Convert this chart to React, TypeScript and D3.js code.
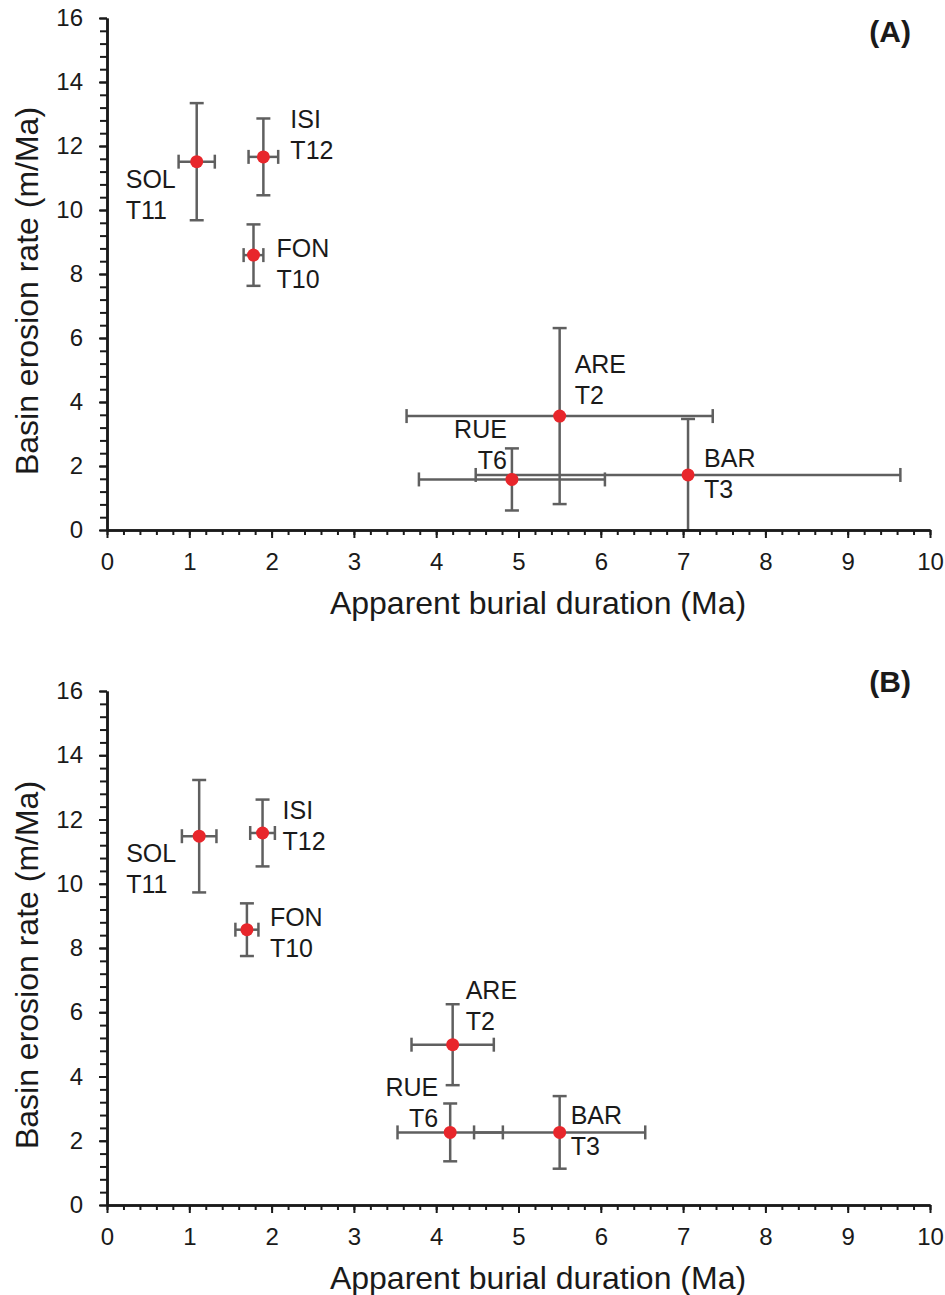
import React, { useRef, useEffect } from 'react';
import * as d3 from 'd3';

// sample sites and their terrace levels
const sites = ['SOL', 'ISI', 'FON', 'ARE', 'RUE', 'BAR'];
const terraces = ['T11', 'T12', 'T10', 'T2', 'T6', 'T3'];

// panel (A)
const burialA = [1.09, 1.9, 1.78, 5.5, 4.92, 7.06];
const burialErrA = [0.22, 0.18, 0.12, 1.86, 1.13, 2.58];
const erosionA = [11.51, 11.66, 8.59, 3.56, 1.58, 1.72];
const erosionErrA = [1.83, 1.2, 0.96, 2.75, 0.97, 1.75];

// panel (B)
const burialB = [1.12, 1.89, 1.7, 4.2, 4.17, 5.5];
const burialErrB = [0.21, 0.15, 0.14, 0.5, 0.64, 1.04];
const erosionB = [11.48, 11.58, 8.57, 4.99, 2.26, 2.26];
const erosionErrB = [1.75, 1.04, 0.82, 1.26, 0.9, 1.13];

const xTicks = d3.range(0, 11, 1);
const yTicks = d3.range(0, 17, 2);
const xTitle = 'Apparent burial duration (Ma)';
const yTitle = 'Basin erosion rate (m/Ma)';

// label placement relative to each point (px): dx, dy of first line, anchor
const labelPosA = [
  [-71, 26, 'start'], [27, -29, 'start'], [23, 2, 'start'],
  [15, -43, 'start'], [-5, -41, 'end'], [16, -8, 'start'],
];
const labelPosB = [
  [-73, 26, 'start'], [20, -14, 'start'], [23, -4, 'start'],
  [13, -46, 'start'], [-12, -36, 'end'], [11, -8, 'start'],
];

const panels = [
  { id: 'A', tag: '(A)', top: 18, bottom: 530, tagY: 42, x: burialA, xe: burialErrA, y: erosionA, ye: erosionErrA, labels: labelPosA },
  { id: 'B', tag: '(B)', top: 691, bottom: 1205, tagY: 692, x: burialB, xe: burialErrB, y: erosionB, ye: erosionErrB, labels: labelPosB },
];

const W = 945;
const H = 1295;
const left = 107;
const right = 930;
const FONT = '"Liberation Sans", Arial, sans-serif';
const BAR_COLOR = '#5f5f5f';
const DOT_COLOR = '#e8262b';

const App = () => {
  const ref = useRef(null);

  useEffect(() => {
    const svg = d3.select(ref.current);
    svg.selectAll('*').remove();
    svg.attr('width', W).attr('height', H).style('font-family', FONT);

    svg.append('rect').attr('width', W).attr('height', H).attr('fill', '#fff');

    const x = d3.scaleLinear().domain([0, 10]).range([left, right]);

    panels.forEach((p) => {
      const y = d3.scaleLinear().domain([0, 16]).range([p.bottom, p.top]);
      const g = svg.append('g');

      // clip for error bars running past the axes
      const clipId = `clip-${p.id}`;
      g.append('clipPath').attr('id', clipId)
        .append('rect')
        .attr('x', left).attr('y', p.top - 10)
        .attr('width', right - left + 10).attr('height', p.bottom - p.top + 10);

      const marks = g.append('g').attr('clip-path', `url(#${clipId})`);
      const cap = 7;

      p.x.forEach((xv, i) => {
        const cx = x(xv);
        const cy = y(p.y[i]);
        const x0 = x(xv - p.xe[i]);
        const x1 = x(xv + p.xe[i]);
        const y0 = y(p.y[i] - p.ye[i]);
        const y1 = y(p.y[i] + p.ye[i]);
        const bars = marks.append('g')
          .attr('stroke', BAR_COLOR).attr('stroke-width', 2.5).attr('fill', 'none');
        bars.append('line').attr('x1', x0).attr('x2', x1).attr('y1', cy).attr('y2', cy);
        bars.append('line').attr('x1', x0).attr('x2', x0).attr('y1', cy - cap).attr('y2', cy + cap);
        bars.append('line').attr('x1', x1).attr('x2', x1).attr('y1', cy - cap).attr('y2', cy + cap);
        bars.append('line').attr('x1', cx).attr('x2', cx).attr('y1', y0).attr('y2', y1);
        bars.append('line').attr('x1', cx - cap).attr('x2', cx + cap).attr('y1', y0).attr('y2', y0);
        bars.append('line').attr('x1', cx - cap).attr('x2', cx + cap).attr('y1', y1).attr('y2', y1);
      });

      p.x.forEach((xv, i) => {
        marks.append('circle')
          .attr('cx', x(xv)).attr('cy', y(p.y[i])).attr('r', 6.5)
          .attr('fill', DOT_COLOR);
      });

      // point labels, two lines each
      p.x.forEach((xv, i) => {
        const [dx, dy, anchor] = p.labels[i];
        const t = g.append('text')
          .attr('x', x(xv) + dx).attr('y', y(p.y[i]) + dy)
          .attr('text-anchor', anchor)
          .style('font-size', '25px').attr('fill', '#1a1a1a');
        t.append('tspan').attr('x', x(xv) + dx).text(sites[i]);
        t.append('tspan').attr('x', x(xv) + dx).attr('dy', 31).text(terraces[i]);
      });

      // x axis: majors + minors
      const xMinor = g.append('g').attr('transform', `translate(0,${p.bottom})`)
        .call(d3.axisBottom(x).tickValues(d3.range(0, 10.01, 0.2)).tickSize(5).tickSizeOuter(0).tickFormat(() => ''));
      const xMajor = g.append('g').attr('transform', `translate(0,${p.bottom})`)
        .call(d3.axisBottom(x).tickValues(xTicks).tickSize(8).tickSizeOuter(0).tickPadding(15));
      [xMinor, xMajor].forEach((a) => {
        a.select('.domain').attr('stroke', '#1a1a1a').attr('stroke-width', 2.5);
        a.selectAll('.tick line').attr('stroke', '#1a1a1a').attr('stroke-width', 2);
      });
      xMajor.selectAll('.tick text')
        .style('font-size', '24px').style('font-family', FONT).attr('fill', '#1a1a1a');

      // y axis
      const yMinor = g.append('g').attr('transform', `translate(${left},0)`)
        .call(d3.axisLeft(y).tickValues(d3.range(0, 16.01, 0.4)).tickSize(7).tickSizeOuter(0).tickFormat(() => ''));
      const yMajor = g.append('g').attr('transform', `translate(${left},0)`)
        .call(d3.axisLeft(y).tickValues(yTicks).tickSize(8).tickSizeOuter(0).tickPadding(16));
      [yMinor, yMajor].forEach((a) => {
        a.select('.domain').attr('stroke', '#1a1a1a').attr('stroke-width', 2.5);
        a.selectAll('.tick line').attr('stroke', '#1a1a1a').attr('stroke-width', 2);
      });
      yMajor.selectAll('.tick text')
        .style('font-size', '24px').style('font-family', FONT).attr('fill', '#1a1a1a');

      // titles
      g.append('text')
        .attr('x', 538).attr('y', p.bottom + 84)
        .attr('text-anchor', 'middle')
        .style('font-size', '32px').attr('fill', '#1a1a1a')
        .text(xTitle);
      g.append('text')
        .attr('transform', `translate(38,${(p.top + p.bottom) / 2 + 17}) rotate(-90)`)
        .attr('text-anchor', 'middle')
        .style('font-size', '32px').attr('fill', '#1a1a1a')
        .text(yTitle);
      g.append('text')
        .attr('x', 911).attr('y', p.tagY)
        .attr('text-anchor', 'end')
        .style('font-size', '30px').style('font-weight', 'bold').attr('fill', '#1a1a1a')
        .text(p.tag);
    });
  }, []);

  return (
    <div style={{ position: 'absolute', left: 0, top: 0 }}>
      <svg ref={ref}></svg>
    </div>
  );
};

export default App;
